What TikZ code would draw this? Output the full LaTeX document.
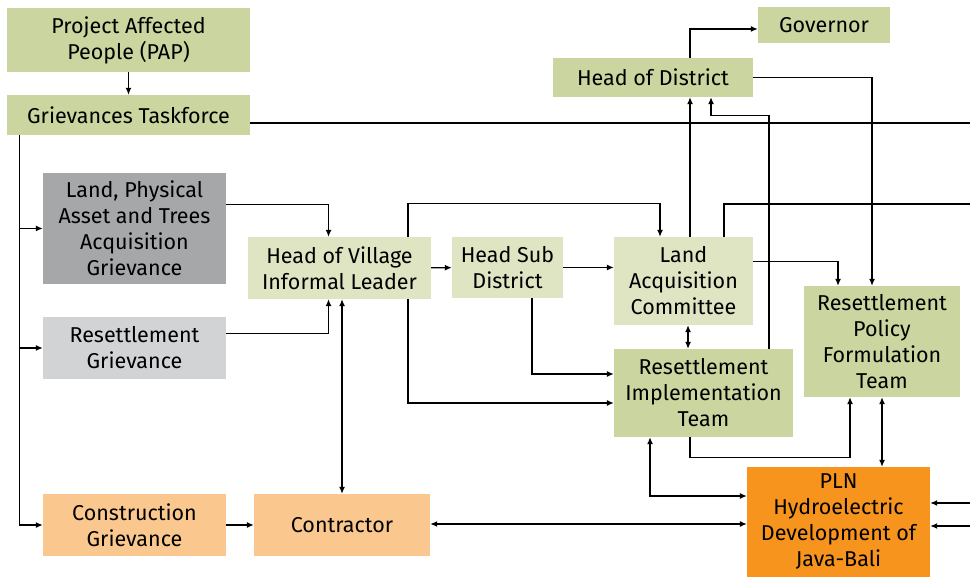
\documentclass[tikz,border=0pt]{standalone}
\usepackage{fontspec}
\setmainfont{Fira Sans}
\usepackage{tikz}
\usetikzlibrary{arrows.meta}
\definecolor{olive}{HTML}{CBD59F}
\definecolor{pale}{HTML}{DFE4C3}
\definecolor{darkgr}{HTML}{A6A7A9}
\definecolor{lightgr}{HTML}{D1D3D4}
\definecolor{peach}{HTML}{FAC88E}
\definecolor{plnorange}{HTML}{F7941D}

\begin{document}
\begin{tikzpicture}[x=1pt, y=-1pt,
	box/.style = {rectangle, inner sep=0pt, align=center, font=\fontsize{21.5}{26}\selectfont},
	arr/.style = {line width=1.2pt, -{Latex[length=7pt,width=6pt]}},
	darr/.style = {line width=1.2pt, {Latex[length=7pt,width=6pt]}-{Latex[length=7pt,width=6pt]}},
	ln/.style = {line width=1.2pt}]
	\useasboundingbox (0,0) rectangle (970,577);
	\node[box, fill=olive, minimum width=243pt, minimum height=64pt] (pap) at (128.5,40) {Project Affected\\People (PAP)};
	\node[box, fill=olive, minimum width=243pt, minimum height=40pt] (gtf) at (128.5,115) {Grievances Taskforce};
	\node[box, fill=darkgr, minimum width=183pt, minimum height=111pt] (land) at (134.5,228.5) {Land, Physical\\Asset and Trees\\Acquisition\\Grievance};
	\node[box, fill=lightgr, minimum width=183pt, minimum height=62pt] (resg) at (134.5,348) {Resettlement\\Grievance};
	\node[box, fill=peach, minimum width=183pt, minimum height=62pt] (cong) at (134.5,525) {Construction\\Grievance};
	\node[box, fill=peach, minimum width=176pt, minimum height=62pt] (contr) at (342,525) {Contractor};
	\node[box, fill=pale, minimum width=183pt, minimum height=62pt] (hov) at (339.5,268) {Head of Village\\Informal Leader};
	\node[box, fill=pale, minimum width=111pt, minimum height=61pt] (hsd) at (507.5,267.5) {Head Sub\\District};
	\node[box, fill=pale, minimum width=139pt, minimum height=88pt] (lac) at (683.5,281) {Land\\Acquisition\\Committee};
	\node[box, fill=olive, minimum width=179pt, minimum height=88pt] (rit) at (703.5,393) {Resettlement\\Implementation\\Team};
	\node[box, fill=olive, minimum width=156pt, minimum height=111pt] (rpft) at (882,341.5) {Resettlement\\Policy\\Formulation\\Team};
	\node[box, fill=plnorange, minimum width=183pt, minimum height=110pt] (pln) at (838.5,522) {PLN\\Hydroelectric\\Development of\\Java-Bali};
	\node[box, fill=olive, minimum width=200pt, minimum height=39pt] (hod) at (653,77.5) {Head of District};
	\node[box, fill=olive, minimum width=132pt, minimum height=36pt] (gov) at (824,25) {Governor};
	\coordinate (e1) at (970,123);
	\coordinate (e2) at (970,204);
	\coordinate (e3) at (970,503);
	\coordinate (e4) at (970,526);
	\draw[arr] (pap) -- (gtf);
	\draw[ln] (gtf.east |- e1) -- (e1);
	\draw[arr] ([xshift=13pt]gtf.south west) |- (land);
	\draw[arr] ([xshift=13pt]gtf.south west) |- (resg);
	\draw[arr] ([xshift=13pt]gtf.south west) |- (cong);
	\draw[arr] ([yshift=-32pt]land.north east) -| ([xshift=-11pt]hov.north);
	\draw[arr] ([yshift=-17pt]resg.north east) -| ([xshift=-11pt]hov.south);
	\draw[darr] (hov.south -| contr) -- (contr);
	\draw[arr] (cong) -- (contr);
	\draw[darr] ([yshift=1pt]contr.east) -- ([yshift=1pt]pln.west |- contr.east);
	\draw[arr] (hov) -- (hsd);
	\draw[arr] (hsd) -- (hsd -| lac.west);
	\draw[arr] ([xshift=68.5pt]hov.north) -- ++(0,-33) -| ([xshift=-23.5pt]lac.north);
	\draw[arr] ([xshift=68.5pt]hov.south) |- ([yshift=-10pt]rit.west);
	\draw[arr] ([xshift=24.5pt]hsd.south) |- ([yshift=19pt]rit.west);
	\draw[darr] ([xshift=4.5pt]lac.south) -- ([xshift=4.5pt]lac.south |- rit.north);
	\draw[arr] ([xshift=6.5pt]lac.north) -- ([xshift=6.5pt]lac.north |- hod.south);
	\draw[arr] ([xshift=37pt]hod.north) |- ([yshift=-4pt]gov.west);
	\draw[arr] ([xshift=65.5pt]rit.north) |- ([xshift=58pt,yshift=-18pt]hod.south) -- ([xshift=58pt]hod.south);
	\draw[arr] (hod.east) -| ([xshift=-10pt]rpft.north);
	\draw[arr] ([yshift=-25pt]lac.north east) -| ([xshift=-44pt]rpft.north);
	\draw[ln] ([xshift=40.5pt]lac.north) |- (e2);
	\draw[arr] ([xshift=-13.5pt]rit.south) -- ++(0,20) -| ([xshift=-32pt]rpft.south);
	\draw[darr] (rpft.south) -- (rpft.south |- pln.north);
	\draw[darr] ([xshift=-53.5pt]rit.south) |- ([yshift=26pt]pln.west);
	\draw[arr] (e3) -- (pln.east |- e3);
	\draw[arr] (e4) -- (pln.east |- e4);
\end{tikzpicture}
\end{document}
